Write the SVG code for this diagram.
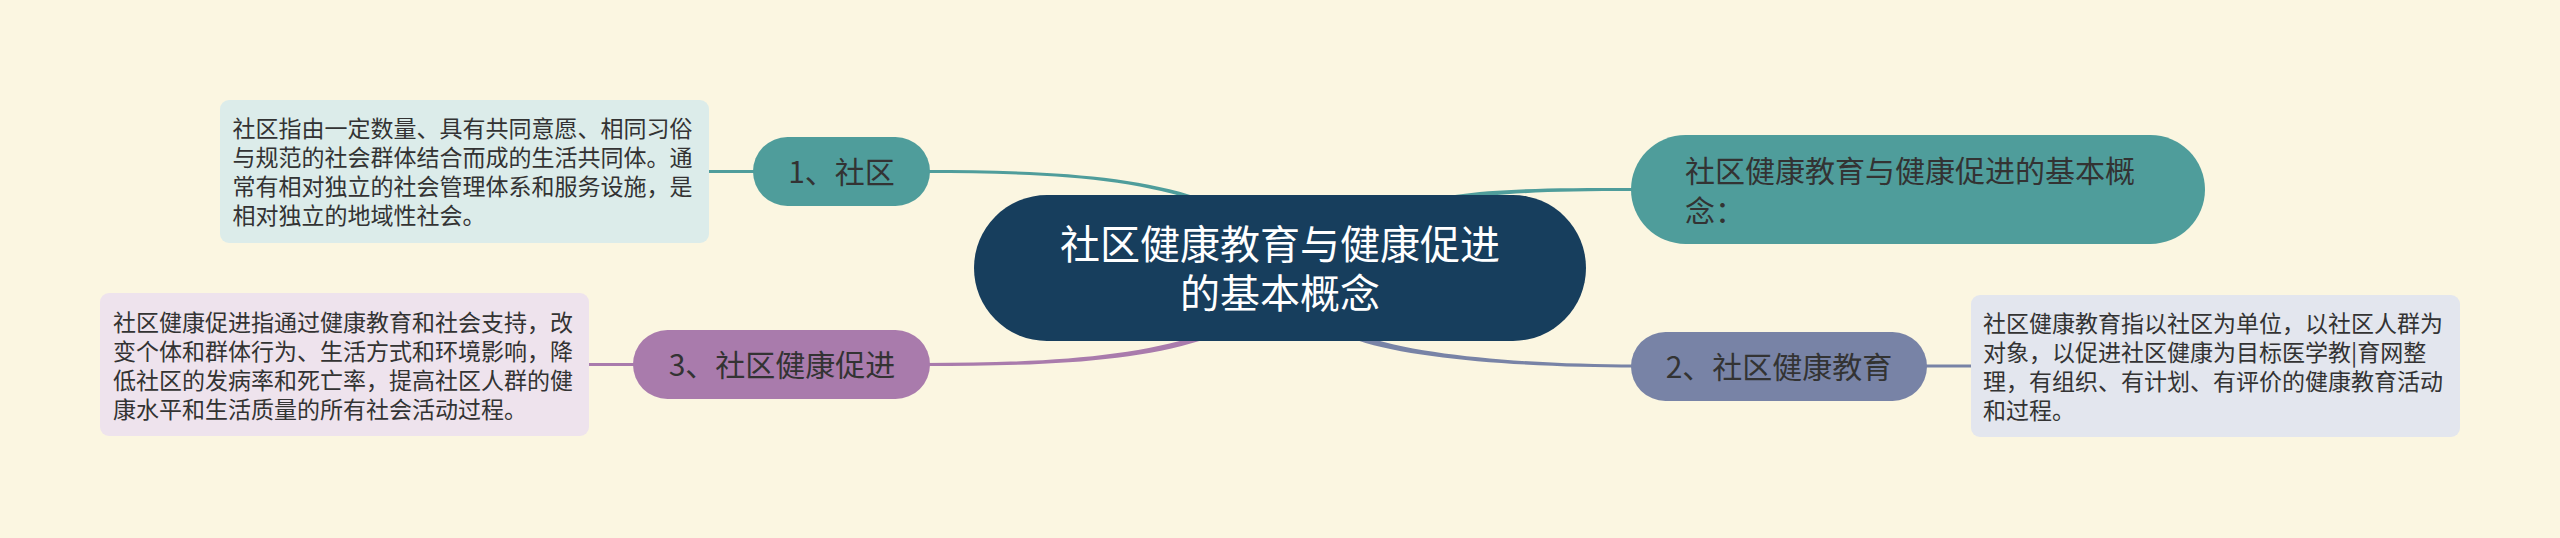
<svg xmlns="http://www.w3.org/2000/svg" width="2560" height="538" viewBox="0 0 2560 538">
<style>
text { font-family: "Noto Sans CJK SC", "Noto Sans", sans-serif; }
.desc { font-size: 23px; fill: #333333; }
.pill { font-size: 30px; fill: #333333; }
.root { font-size: 40px; fill: #ffffff; text-anchor: middle; }
.mid { text-anchor: middle; }
.teal { fill: #4f9d9b; }
.slate { fill: #7883a6; }
.purple { fill: #a97bac; }
.lt { stroke: #4f9d9b; stroke-width: 3; fill: none; }
.ls { stroke: #7883a6; stroke-width: 3; fill: none; }
.lp { stroke: #a97bac; stroke-width: 3; fill: none; }
</style>
<rect x="0" y="0" width="2560" height="538" fill="#fbf6e1"/>
<g id="connectors">
  <path class="teal" d="M925,170 C1040,170 1129,174.5 1199,197.5 L1201,202.5 C1131,177.5 1040,173 925,173 Z"/>
  <path class="teal" d="M1635,188 C1550,188 1500,188.5 1455,195 L1455,201 C1500,192.5 1550,191 1635,191 Z"/>
  <path class="slate" d="M1635,364.5 C1540,364.5 1421,357 1361,335 L1358,340.5 C1419,361 1540,367.5 1635,367.5 Z"/>
  <path class="purple" d="M925,363 C1040,363 1129,357.5 1199,335.5 L1201,340.5 C1131,362.5 1040,366 925,366 Z"/>
  <path class="lt" d="M707,171.5 H756"/>
  <path class="lp" d="M587,364.5 H636"/>
  <path class="ls" d="M1924,366 H1973"/>
</g>
<g id="root">
  <rect x="974" y="195" width="612" height="146" rx="73" ry="73" fill="#173e5d"/>
  <text class="root" x="1280" y="259">社区健康教育与健康促进</text>
  <text class="root" x="1280" y="308">的基本概念</text>
</g>
<g id="intro">
  <rect x="1631" y="135" width="574" height="109" rx="54.5" ry="54.5" class="teal"/>
  <text class="pill" x="1685" y="182">社区健康教育与健康促进的基本概</text>
  <text class="pill" x="1685" y="222">念：</text>
</g>
<g id="n1">
  <rect x="753" y="137" width="177" height="69" rx="34.5" ry="34.5" class="teal"/>
  <text class="pill mid" x="841.5" y="183">1、社区</text>
</g>
<g id="n1-desc">
  <rect x="220" y="100" width="489" height="143" rx="9" ry="9" fill="#dcecea"/>
  <text class="desc" x="232.5" y="137.4">社区指由一定数量、具有共同意愿、相同习俗</text>
  <text class="desc" x="232.5" y="166.4">与规范的社会群体结合而成的生活共同体。通</text>
  <text class="desc" x="232.5" y="195.4">常有相对独立的社会管理体系和服务设施，是</text>
  <text class="desc" x="232.5" y="224.4">相对独立的地域性社会。</text>
</g>
<g id="n2">
  <rect x="1631" y="332" width="296" height="69" rx="34.5" ry="34.5" class="slate"/>
  <text class="pill mid" x="1779" y="377.5">2、社区健康教育</text>
</g>
<g id="n2-desc">
  <rect x="1971" y="295" width="489" height="142" rx="9" ry="9" fill="#e3e6ee"/>
  <text class="desc" x="1983" y="332">社区健康教育指以社区为单位，以社区人群为</text>
  <text class="desc" x="1983" y="361">对象，以促进社区健康为目标医学教|育网整</text>
  <text class="desc" x="1983" y="390">理，有组织、有计划、有评价的健康教育活动</text>
  <text class="desc" x="1983" y="419">和过程。</text>
</g>
<g id="n3">
  <rect x="633" y="330" width="297" height="69" rx="34.5" ry="34.5" class="purple"/>
  <text class="pill mid" x="782" y="376">3、社区健康促进</text>
</g>
<g id="n3-desc">
  <rect x="100" y="293" width="489" height="143" rx="9" ry="9" fill="#eee3ed"/>
  <text class="desc" x="113" y="330.7">社区健康促进指通过健康教育和社会支持，改</text>
  <text class="desc" x="113" y="359.7">变个体和群体行为、生活方式和环境影响，降</text>
  <text class="desc" x="113" y="388.7">低社区的发病率和死亡率，提高社区人群的健</text>
  <text class="desc" x="113" y="417.7">康水平和生活质量的所有社会活动过程。</text>
</g>
</svg>
